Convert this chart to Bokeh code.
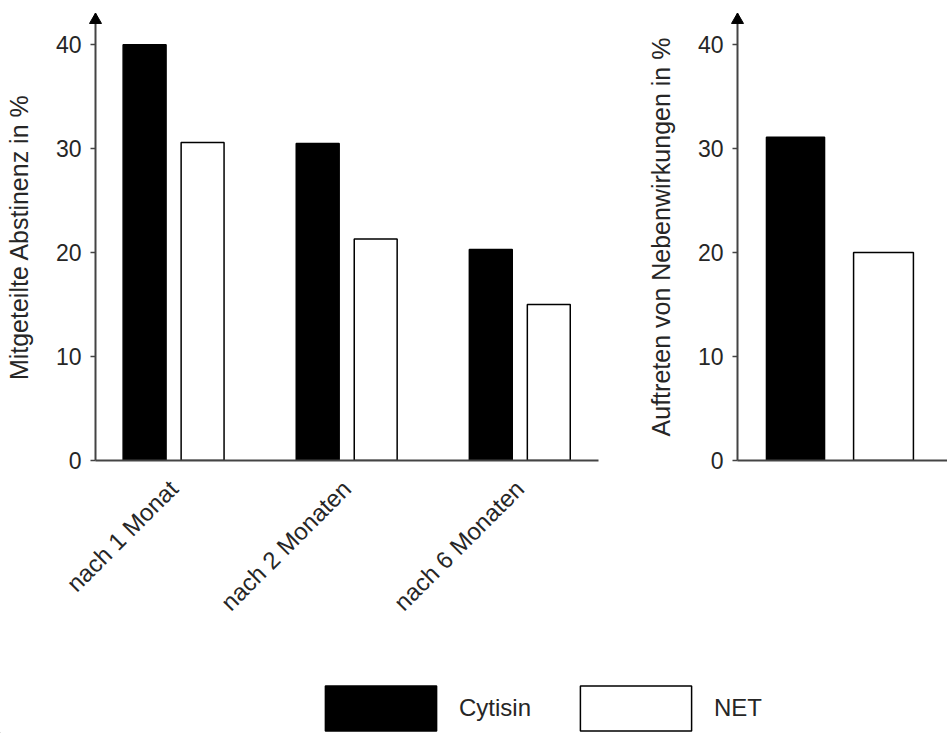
from bokeh.plotting import figure
from bokeh.models import Range1d, FixedTicker, ColumnDataSource, Legend, LegendItem
from bokeh.layouts import row, column
from bokeh.transform import dodge
from bokeh.embed import file_html
from bokeh.resources import INLINE

# ---- data ----
time_labels = ["nach 1 Monat", "nach 2 Monaten", "nach 6 Monaten"]
time_pos = [1, 2, 3]
abst_cytisin = [40.0, 30.5, 20.3]
abst_net = [30.6, 21.3, 15.0]

side_pos = [1, 2]
side_values_cytisin = [31.1]
side_values_net = [20.0]

y_ticks = [0, 10, 20, 30, 40]
series_names = ["Cytisin", "NET"]

FONT = "Liberation Sans"
TXT = "#262626"
AX = "#444444"

Y_END = 43.0
H = 640
TOP = 13
BOTTOM = 180
PX_PER_UNIT_Y = (H - TOP - BOTTOM) / Y_END


def style(p, ylabel, label_standoff):
    p.grid.visible = False
    p.outline_line_color = None
    p.background_fill_color = "white"
    p.border_fill_color = "white"
    ya = p.yaxis[0]
    ya.ticker = FixedTicker(ticks=y_ticks)
    ya.axis_label = ylabel
    ya.axis_label_text_font = FONT
    ya.axis_label_text_font_size = "25px"
    ya.axis_label_text_font_style = "normal"
    ya.axis_label_text_color = TXT
    ya.axis_label_standoff = label_standoff
    ya.major_label_text_font = FONT
    ya.major_label_text_font_size = "23px"
    ya.major_label_text_color = TXT
    ya.major_label_standoff = 9
    ya.major_tick_out = 5
    ya.major_tick_in = 0
    ya.minor_tick_line_color = None
    ya.axis_line_color = AX
    ya.axis_line_width = 2
    ya.major_tick_line_color = AX
    ya.major_tick_line_width = 1.5
    xa = p.xaxis[0]
    xa.axis_line_color = AX
    xa.axis_line_width = 2
    xa.major_tick_line_color = None
    xa.minor_tick_line_color = None
    # arrow head on top of the y axis
    p.scatter(x=[p.x_range.start], y=[p.y_range.end - 6.5 / PX_PER_UNIT_Y],
              marker="triangle", size=12, fill_color="black", line_color="black",
              level="overlay")


# ---- left chart ----
px = 173.1
x0 = 1 - (173.1 - 95) / px
x1 = x0 + 503 / px
src = ColumnDataSource(dict(x=time_pos, c=abst_cytisin, n=abst_net))
p1 = figure(width=628, height=H, x_range=Range1d(x0, x1), y_range=Range1d(0, Y_END),
            output_backend="svg", toolbar_location=None,
            min_border_left=95, min_border_right=30, min_border_top=TOP,
            min_border_bottom=BOTTOM)
p1.vbar(x=dodge("x", -0.1675), top="c", width=0.248, source=src,
        fill_color="black", line_color="black", line_width=1.5)
p1.vbar(x=dodge("x", 0.1675), top="n", width=0.248, source=src,
        fill_color="white", line_color="black", line_width=1.5)
style(p1, "Mitgeteilte Abstinenz in %", 20)
p1.xaxis.ticker = FixedTicker(ticks=time_pos)
p1.xaxis.major_label_overrides = {k: v for k, v in zip(time_pos, time_labels)}
p1.xaxis.major_label_orientation = 0.785398
p1.xaxis.major_label_text_font = FONT
p1.xaxis.major_label_text_font_size = "24px"
p1.xaxis.major_label_text_color = TXT
p1.xaxis.major_label_standoff = 18

# ---- right chart ----
qx = 88.0
u0 = 1 - 58 / qx
u1 = u0 + 210 / qx
p2 = figure(width=319, height=H, x_range=Range1d(u0, u1), y_range=Range1d(0, Y_END),
            output_backend="svg", toolbar_location=None,
            min_border_left=109, min_border_right=0, min_border_top=TOP,
            min_border_bottom=BOTTOM)
p2.vbar(x=side_pos[:1], top=side_values_cytisin, width=0.66,
        fill_color="black", line_color="black", line_width=1.5)
p2.vbar(x=side_pos[1:], top=side_values_net, width=0.68,
        fill_color="white", line_color="black", line_width=1.5)
style(p2, "Auftreten von Nebenwirkungen in %", 20)
p2.xaxis.ticker = FixedTicker(ticks=[])

# ---- legend ----
LH = 93
pl = figure(width=947, height=LH, x_range=Range1d(0, 1), y_range=Range1d(0, 1),
            output_backend="svg", toolbar_location=None,
            x_axis_type=None, y_axis_type=None, min_border=0)
pl.grid.visible = False
pl.outline_line_color = None
# legend swatches only: bars placed outside the visible range
dummy = ColumnDataSource(dict(x=[-10], top=[0]))
lc = pl.vbar(x="x", top="top", width=0.1, source=dummy,
             fill_color="black", line_color="black", line_width=1.5)
ln = pl.vbar(x="x", top="top", width=0.1, source=dummy,
             fill_color="white", line_color="black", line_width=1.5)
leg = Legend(items=[LegendItem(label=series_names[0], renderers=[lc]),
                    LegendItem(label=series_names[1], renderers=[ln])],
             orientation="horizontal", location=(311, -3),
             glyph_width=139, glyph_height=56, label_standoff=9, spacing=35,
             label_text_font=FONT, label_text_font_size="24px", label_text_color=TXT,
             padding=0, margin=0, border_line_color=None, background_fill_alpha=0)
pl.add_layout(leg, "center")

layout = column(row(p1, p2), pl)
open("out.html", "w").write(file_html(layout, INLINE))
